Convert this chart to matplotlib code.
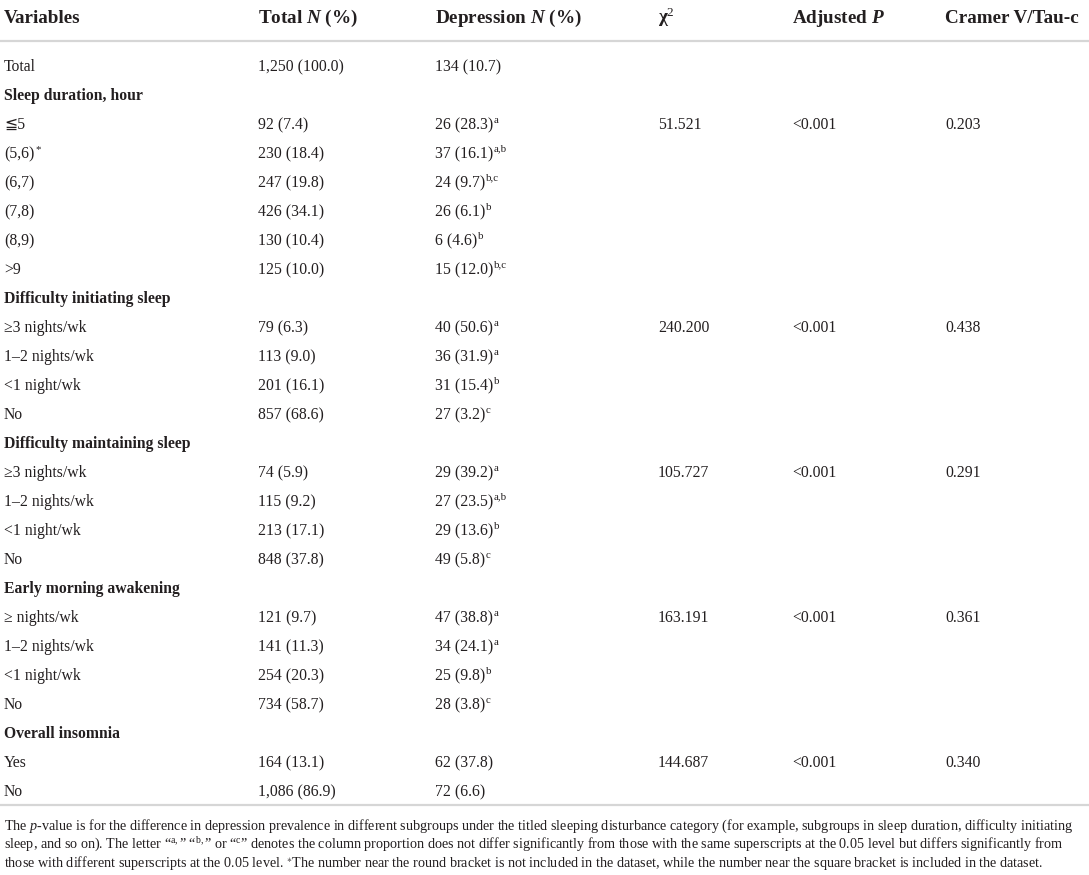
import matplotlib
matplotlib.use("Agg")
import matplotlib.pyplot as plt
from matplotlib.transforms import offset_copy

plt.rcParams['font.family'] = ['Liberation Serif', 'DejaVu Serif', 'DejaVu Sans']
plt.rcParams['mathtext.fontset'] = 'custom'
plt.rcParams['mathtext.rm'] = 'Liberation Serif'
plt.rcParams['mathtext.it'] = 'Liberation Serif:italic'
plt.rcParams['mathtext.bf'] = 'Liberation Serif:bold'
plt.rcParams['mathtext.bfit'] = 'Liberation Serif:italic:bold'

headers = [r"Variables", r"Total $\mathbfit{N}$ (%)", r"Depression $\mathbfit{N}$ (%)",
           r"χ$^{\mathrm{2}}$", r"Adjusted $\mathbfit{P}$", r"Cramer V/Tau-c"]

row_labels = ["Total", "Sleep duration, hour", "≦5", "(5,6)", "(6,7)", "(7,8)", "(8,9)", ">9",
              "Difficulty initiating sleep", "≥3 nights/wk", "1–2 nights/wk", "<1 night/wk", "No",
              "Difficulty maintaining sleep", "≥3 nights/wk", "1–2 nights/wk", "<1 night/wk", "No",
              "Early morning awakening", "≥ nights/wk", "1–2 nights/wk", "<1 night/wk", "No",
              "Overall insomnia", "Yes", "No"]
label_sup = {3: "*"}
heading_rows = [1, 8, 13, 18, 23]

total_n = ["1,250 (100.0)", "", "92 (7.4)", "230 (18.4)", "247 (19.8)", "426 (34.1)", "130 (10.4)", "125 (10.0)",
           "", "79 (6.3)", "113 (9.0)", "201 (16.1)", "857 (68.6)",
           "", "74 (5.9)", "115 (9.2)", "213 (17.1)", "848 (37.8)",
           "", "121 (9.7)", "141 (11.3)", "254 (20.3)", "734 (58.7)",
           "", "164 (13.1)", "1,086 (86.9)"]
depression_n = ["134 (10.7)", "", "26 (28.3)", "37 (16.1)", "24 (9.7)", "26 (6.1)", "6 (4.6)", "15 (12.0)",
                "", "40 (50.6)", "36 (31.9)", "31 (15.4)", "27 (3.2)",
                "", "29 (39.2)", "27 (23.5)", "29 (13.6)", "49 (5.8)",
                "", "47 (38.8)", "34 (24.1)", "25 (9.8)", "28 (3.8)",
                "", "62 (37.8)", "72 (6.6)"]
depression_sup = ["", "", "a", "a,b", "b,c", "b", "b", "b,c",
                  "", "a", "a", "b", "c",
                  "", "a", "a,b", "b", "c",
                  "", "a", "a", "b", "c",
                  "", "", ""]
stat_rows = [2, 9, 14, 19, 24]
chi2 = ["51.521", "240.200", "105.727", "163.191", "144.687"]
adjusted_p = ["<0.001", "<0.001", "<0.001", "<0.001", "<0.001"]
cramer = ["0.203", "0.438", "0.291", "0.361", "0.340"]

footnote = [
    "The $\\mathit{p}$-value is for the difference in depression prevalence in different subgroups under the titled "
    "sleeping disturbance category (for example, subgroups in sleep duration, difficulty initiating",
    "sleep, and so on). The letter “$^{\\mathrm{a,}}$” “$^{\\mathrm{b,}}$” or “$^{\\mathrm{c}}$” denotes the column "
    "proportion does not differ significantly from those with the same superscripts at the 0.05 level but differs "
    "significantly from",
    "those with different superscripts at the 0.05 level. $^{\\ast}$The number near the round bracket is not included "
    "in the dataset, while the number near the square bracket is included in the dataset.",
]

W, H = 1089, 875
ink = '#231f20'
rule = '#d6d6d6'
col_x = [4, 258, 435, 658, 792, 945]

fig = plt.figure(figsize=(W / 100, H / 100), dpi=100)
ax = fig.add_axes([0, 0, 1, 1])
ax.set_xlim(0, W)
ax.set_ylim(H, 0)
ax.axis('off')
renderer = fig.canvas.get_renderer()

body_fs, sup_fs = 11.3, 7.8


def cell(x, y, s, sup="", bold=False):
    t = ax.text(x, y, s, fontsize=body_fs, color=ink, va='baseline',
                fontweight='bold' if bold else 'normal')
    if sup:
        w = t.get_window_extent(renderer).width
        tr = offset_copy(ax.transData, fig=fig, x=w * 72 / 100 + 0.5, y=4.6, units='points')
        ax.text(x, y, sup, fontsize=sup_fs, color=ink, va='baseline', transform=tr)


# header
for x, h in zip(col_x, headers):
    ax.text(x, 23, h, fontsize=13.8, fontweight='bold', color=ink, va='baseline')

ax.plot([0, W], [41, 41], color=rule, lw=1.6)

# body
row0, step = 66, 29
for i, lab in enumerate(row_labels):
    yb = row0 + i * step + 5
    cell(col_x[0], yb, lab, label_sup.get(i, ""), bold=i in heading_rows)
    if total_n[i]:
        cell(col_x[1], yb, total_n[i])
    if depression_n[i]:
        cell(col_x[2], yb, depression_n[i], depression_sup[i])

for r, c, p, v in zip(stat_rows, chi2, adjusted_p, cramer):
    yb = row0 + r * step + 5
    cell(col_x[3], yb, c)
    cell(col_x[4], yb, p)
    cell(col_x[5], yb, v)

ax.plot([0, W], [805, 805], color=rule, lw=1.6)

# footnote, sized so the first line fills the width
notes = [ax.text(4, 830 + k * 18.5, line, fontsize=10, color=ink, va='baseline')
         for k, line in enumerate(footnote)]
w0 = notes[0].get_window_extent(renderer).width
fs = 10 * (W - 16) / w0
for t in notes:
    t.set_fontsize(fs)

fig.savefig('out.png', dpi=100)
